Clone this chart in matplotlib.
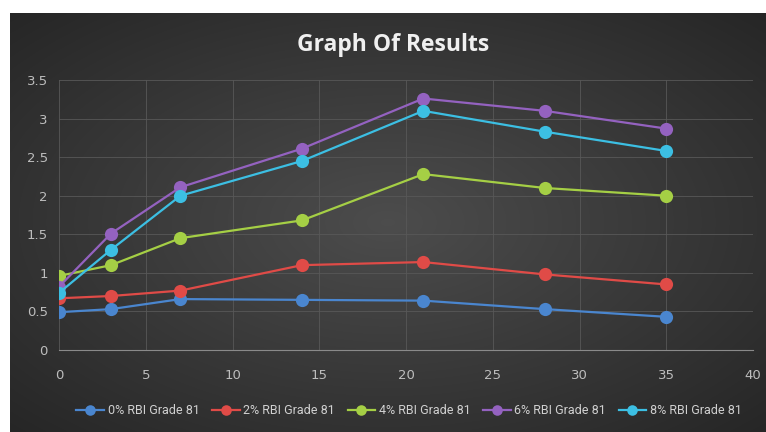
import numpy as np
import matplotlib.pyplot as plt

days = [0, 3, 7, 14, 21, 28, 35]

rbi_0 = [0.49, 0.53, 0.66, 0.65, 0.64, 0.53, 0.43]
rbi_2 = [0.67, 0.70, 0.77, 1.10, 1.14, 0.98, 0.85]
rbi_4 = [0.96, 1.10, 1.45, 1.68, 2.28, 2.10, 2.00]
rbi_6 = [0.82, 1.51, 2.11, 2.61, 3.26, 3.10, 2.87]
rbi_8 = [0.74, 1.30, 2.00, 2.45, 3.10, 2.83, 2.58]

labels = ['0% RBI Grade 81', '2% RBI Grade 81', '4% RBI Grade 81',
          '6% RBI Grade 81', '8% RBI Grade 81']
colors = ['#4a86cf', '#e04b47', '#a5cf45', '#9462c0', '#3cbfe3']

fig = plt.figure(figsize=(7.66, 4.32), dpi=100)
fig.patch.set_facecolor('white')

# ── radial gradient backdrop ──────────────────────────────
bg = fig.add_axes([10 / 766, 0, 756 / 766, 419 / 432])
bg.set_axis_off()
gx, gy = np.meshgrid(np.linspace(-1, 1, 400), np.linspace(-1, 1, 240))
r = np.sqrt(gx**2 + gy**2) / np.sqrt(2)
shade = 0.30 - 0.15 * r
bg.imshow(np.dstack([shade, shade, shade]), aspect='auto',
          extent=[0, 1, 0, 1], interpolation='bilinear')
bg.set_xlim(0, 1)
bg.set_ylim(0, 1)

# ── plot area ─────────────────────────────────────────────
ax = fig.add_axes([59 / 766, (432 - 350) / 432, 694 / 766, 270 / 432])
ax.patch.set_alpha(0)

series = [rbi_0, rbi_2, rbi_4, rbi_6, rbi_8]
for vals, lab, col in zip(series, labels, colors):
    ax.plot(days, vals, color=col, lw=1.6, marker='o', markersize=9.5,
            markeredgewidth=0, label=lab, zorder=3)

ax.set_xlim(0, 40)
ax.set_ylim(0, 3.5)
ax.set_xticks(range(0, 41, 5))
ax.set_yticks(np.arange(0, 3.6, 0.5))
ax.set_yticklabels(['0', '0.5', '1', '1.5', '2', '2.5', '3', '3.5'])
ax.grid(True, color='#585858', lw=0.6)
ax.set_axisbelow(True)
for s in ['top', 'right', 'left']:
    ax.spines[s].set_visible(False)
ax.spines['bottom'].set_color('#8a8a8a')
ax.tick_params(length=0, colors='#bdbdbd', labelsize=9.5)
ax.tick_params(axis='x', pad=14)
ax.tick_params(axis='y', pad=8)

fig.text(0.513, 1 - 45 / 432, 'Graph Of Results', ha='center', va='center',
         fontsize=16.5, fontweight='bold', color='#f0f0f0', family='Open Sans')

leg = fig.legend(loc='center', bbox_to_anchor=(0.534, 1 - 411 / 432), ncol=5,
                 frameon=False, handlelength=2.2,
                 prop={'family': 'Roboto', 'size': 9},
                 columnspacing=1.0, handletextpad=0.3, markerscale=0.8)
for t in leg.get_texts():
    t.set_color('#d0d0d0')

fig.savefig('out.png', dpi=100, facecolor=fig.get_facecolor())
